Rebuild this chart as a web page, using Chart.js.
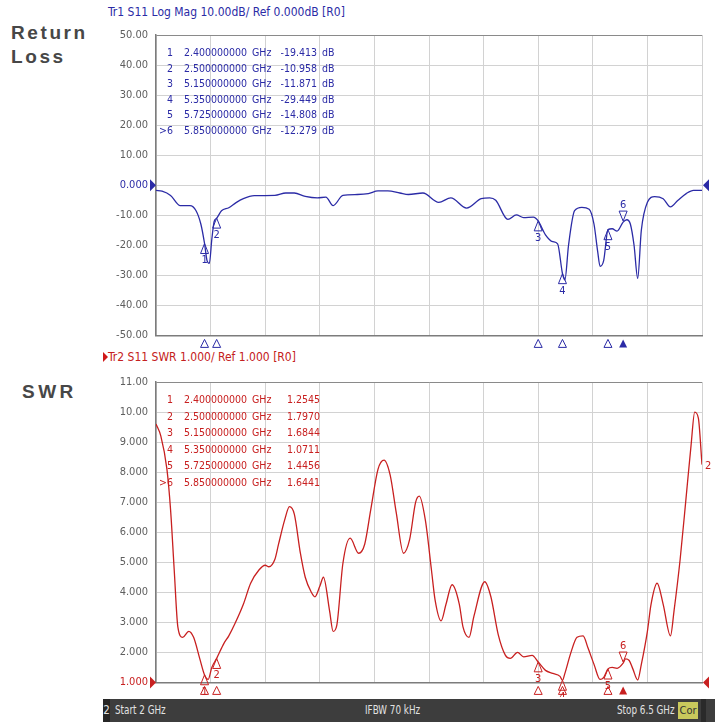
<!DOCTYPE html>
<html>
<head>
<meta charset="utf-8">
<script src="https://cdn.jsdelivr.net/npm/chart.js@4.4.0/dist/chart.umd.min.js"></script>
<style>
  body { margin: 0; width: 715px; height: 722px; overflow: hidden; position: relative; background: #fff;
         font-family: "DejaVu Sans Condensed", "DejaVu Sans", sans-serif; }
  canvas { position: absolute; left: 0; }
  .side { position: absolute; font-family: "Liberation Sans", Arial, sans-serif; font-weight: bold;
          font-size: 19px; color: #474747; letter-spacing: 2.6px; line-height: 24px; }
  .hdr { position: absolute; left: 108px; font-size: 12px; white-space: pre; }
  .cell { position: absolute; font-size: 10.5px; white-space: pre; line-height: 12px; }
  #bar { position: absolute; left: 103px; top: 699px; width: 612px; height: 23px; background: #3d3d3d;
         color: #e2e2e2; font-size: 11.5px; line-height: 23px; }
  #bar span { position: absolute; white-space: pre; transform: scaleX(0.85); transform-origin: left center; }
</style>
</head>
<body>
<div class="side" style="left:11px; top:21px;">Return<br>Loss</div>
<div class="side" style="left:22px; top:380px; letter-spacing:3.5px;">SWR</div>
<div class="hdr" style="top:5px; color:#2b2ba6;">Tr1 S11 Log Mag 10.00dB/ Ref 0.000dB [R0]</div>
<div class="hdr" style="top:350px; color:#c42020;">Tr2 S11 SWR 1.000/ Ref 1.000 [R0]</div>
<div style="position:absolute; left:103px; top:352px; width:0; height:0; border-top:5px solid transparent; border-bottom:5px solid transparent; border-left:5px solid #d01818;"></div>
<canvas id="rlChart" width="715" height="350" style="top:0;"></canvas>
<canvas id="swrChart" width="715" height="350" style="top:347px;"></canvas>
<div id="tables"></div>
<div id="bar">
  <span style="left:0; width:7px; background:#262626; text-align:center; transform:none;">2</span>
  <span style="left:12px;">Start 2 GHz</span>
  <span style="left:262px;">IFBW 70 kHz</span>
  <span style="left:514px;">Stop 6.5 GHz</span>
  <span style="left:575px; top:3px; height:17px; line-height:17px; width:20px; background:#c9c95c; color:#333; text-align:center; transform:none; font-size:11px;">Cor</span>
  <span style="left:598px; width:5px; height:23px; background:#2a2a2a; transform:none;"></span>
</div>
<script>
// === Sweep grid (GHz) ===
const gridFreqs = [2, 2.45, 2.9, 3.35, 3.8, 4.25, 4.7, 5.15, 5.6, 6.05, 6.5];

// === Trace 1: S11 Log Mag (dB) ===
const rlFreqs = [2.00, 2.05, 2.12, 2.20, 2.28, 2.33, 2.37, 2.40, 2.42, 2.44, 2.46, 2.48, 2.50, 2.54, 2.60,
  2.66, 2.72, 2.81, 2.98, 3.07, 3.14, 3.23, 3.33, 3.40, 3.46, 3.54, 3.66, 3.75, 3.83, 3.91, 4.01, 4.08,
  4.20, 4.33, 4.43, 4.56, 4.68, 4.75, 4.80, 4.90, 4.97, 5.03, 5.11, 5.15, 5.21, 5.27, 5.31, 5.35, 5.37,
  5.40, 5.45, 5.51, 5.57, 5.61, 5.64, 5.66, 5.69, 5.725, 5.76, 5.80, 5.85, 5.88, 5.91, 5.94, 5.97, 6.00,
  6.05, 6.11, 6.18, 6.24, 6.30, 6.37, 6.43, 6.50];
const rlValues = [-1.7, -2.0, -3.4, -6.8, -6.8, -8.5, -13, -19.4, -25, -26, -18, -12, -11.0, -8.5, -7.5,
  -5.8, -4.5, -3.5, -3.4, -2.6, -2.6, -3.7, -4.2, -4.0, -6.8, -3.4, -3.1, -2.8, -1.9, -1.9, -2.6, -3.1,
  -2.6, -5.7, -4.2, -7.6, -4.5, -4.2, -5.0, -11.4, -9.9, -10.8, -10.6, -11.9, -16.5, -18.8, -19.5, -29.4, -31.5,
  -20, -8.5, -7.4, -8.0, -13, -22, -27, -25, -14.8, -14.5, -15.3, -12.3, -11.5, -13, -20, -31, -15,
  -5.7, -3.8, -4.5, -7.2, -5.1, -2.8, -1.7, -1.7];

// === Trace 2: S11 SWR ===
const swrFreqs = [2.00, 2.04, 2.09, 2.12, 2.15, 2.18, 2.22, 2.27, 2.31, 2.36, 2.40, 2.43, 2.46, 2.50, 2.56,
  2.60, 2.65, 2.72, 2.78, 2.85, 2.90, 2.93, 2.98, 3.01, 3.06, 3.10, 3.14, 3.19, 3.23, 3.28, 3.31, 3.35,
  3.38, 3.43, 3.46, 3.49, 3.54, 3.60, 3.67, 3.72, 3.77, 3.83, 3.88, 3.93, 3.98, 4.04, 4.09, 4.14, 4.17,
  4.22, 4.27, 4.30, 4.35, 4.39, 4.44, 4.50, 4.53, 4.58, 4.62, 4.71, 4.76, 4.82, 4.88, 4.92, 4.98, 5.03,
  5.10, 5.15, 5.21, 5.27, 5.33, 5.35, 5.37, 5.42, 5.47, 5.52, 5.56, 5.61, 5.66, 5.69, 5.725, 5.76, 5.80,
  5.85, 5.87, 5.90, 5.93, 5.97, 6.00, 6.05, 6.08, 6.13, 6.18, 6.24, 6.27, 6.32, 6.37, 6.41, 6.44, 6.47, 6.50];
const swrValues = [9.6, 9.2, 8.1, 6.75, 4.75, 2.85, 2.5, 2.7, 2.5, 1.8, 1.25, 1.1, 1.5, 1.8, 2.3,
  2.55, 2.95, 3.6, 4.3, 4.75, 4.9, 4.85, 5.1, 5.6, 6.4, 6.85, 6.6, 5.3, 4.5, 4.0, 3.85, 4.2,
  4.5, 3.4, 2.7, 2.9, 4.95, 5.8, 5.3, 5.6, 6.75, 8.1, 8.4, 7.9, 6.65, 5.3, 5.75, 7.0, 7.2,
  6.4, 4.75, 3.75, 3.05, 3.6, 4.25, 3.6, 2.85, 2.5, 3.2, 4.35, 3.85, 2.6, 1.9, 1.8, 2.0, 1.85,
  1.9, 1.68, 1.4, 1.3, 1.2, 1.07, 1.3, 2.0, 2.5, 2.55, 2.15, 1.6, 1.1, 1.17, 1.45, 1.5, 1.47,
  1.64, 1.78, 1.73, 1.45, 1.08, 1.6, 2.7, 3.6, 4.3, 3.6, 2.55, 3.4, 5.1, 7.2, 8.9, 10.0, 9.8, 8.25];

// === Markers ===
const markerFreqs = [2.4, 2.5, 5.15, 5.35, 5.725, 5.85];
const rlMarkerValues = [-19.413, -10.958, -11.871, -29.449, -14.808, -12.279];
const swrMarkerValues = [1.2545, 1.797, 1.6844, 1.0711, 1.4456, 1.6441];

// === Axis ticks ===
const rlTicks = [50, 40, 30, 20, 10, 0, -10, -20, -30, -40, -50];
const rlTickLabels = ["50.00", "40.00", "30.00", "20.00", "10.00", "0.000", "-10.00", "-20.00", "-30.00", "-40.00", "-50.00"];
const swrTicks = [11, 10, 9, 8, 7, 6, 5, 4, 3, 2, 1];
const swrTickLabels = ["11.00", "10.00", "9.000", "8.000", "7.000", "6.000", "5.000", "4.000", "3.000", "2.000", "1.000"];

const BLUE = "#2b2ba6";
const RED = "#c82020";

const markerPlugin = {
  id: "vnaMarkers",
  afterDatasetsDraw(chart, args, o) {
    const { ctx, chartArea: a } = chart;
    const xs = chart.scales.x, ys = chart.scales.y;
    ctx.save();
    ctx.strokeStyle = o.color;
    ctx.fillStyle = o.color;
    ctx.lineWidth = 1;
    ctx.font = "11px 'DejaVu Sans Condensed'";
    ctx.textAlign = "center";
    ctx.textBaseline = "middle";
    o.freqs.forEach((f, i) => {
      const px = xs.getPixelForValue(f);
      const py = ys.getPixelForValue(o.values[i]);
      const active = i === o.active;
      ctx.beginPath();
      if (active) {
        ctx.moveTo(px, py - 1); ctx.lineTo(px - 4, py - 11); ctx.lineTo(px + 4, py - 11);
      } else {
        ctx.moveTo(px, py); ctx.lineTo(px - 4, py + 10); ctx.lineTo(px + 4, py + 10);
      }
      ctx.closePath();
      ctx.stroke();
      ctx.fillText(String(i + 1), px, active ? py - 17 : py + 17);
      // marker row under the grid
      const by = a.bottom + 4;
      ctx.beginPath();
      ctx.moveTo(px, by); ctx.lineTo(px - 4, by + 8); ctx.lineTo(px + 4, by + 8);
      ctx.closePath();
      if (active) ctx.fill(); else ctx.stroke();
    });
    // reference level arrows
    const ry = ys.getPixelForValue(o.ref);
    ctx.beginPath();
    ctx.moveTo(a.left - 6, ry - 6); ctx.lineTo(a.left, ry); ctx.lineTo(a.left - 6, ry + 6);
    ctx.closePath(); ctx.fill();
    ctx.beginPath();
    ctx.moveTo(a.right + 7, ry - 6); ctx.lineTo(a.right + 1, ry); ctx.lineTo(a.right + 7, ry + 6);
    ctx.closePath(); ctx.fill();
    if (o.traceLabel) {
      ctx.textAlign = "left";
      ctx.fillText(o.traceLabel.text, a.right + 3, ys.getPixelForValue(o.traceLabel.value));
    }
    ctx.restore();
  },
};

function makeChart(id, freqs, values, ticks, tickLabels, color, refValue, markerValues, traceLabel) {
  const lo = ticks[ticks.length - 1], hi = ticks[0];
  return new Chart(document.getElementById(id), {
    type: "line",
    data: {
      datasets: [{
        data: freqs.map((f, i) => ({ x: f, y: values[i] })),
        borderColor: color,
        borderWidth: 1.3,
        pointRadius: 0,
        cubicInterpolationMode: "monotone",
      }],
    },
    options: {
      responsive: false,
      animation: false,
      devicePixelRatio: 1,
      layout: { padding: { left: 100, right: 13, top: 35, bottom: 14 } },
      plugins: {
        legend: { display: false },
        tooltip: { enabled: false },
        vnaMarkers: { freqs: markerFreqs, values: markerValues, color: color, active: 5, ref: refValue, traceLabel: traceLabel },
      },
      scales: {
        x: {
          type: "linear", min: 2, max: 6.5,
          afterBuildTicks: (s) => { s.ticks = gridFreqs.map((v) => ({ value: v })); },
          afterFit: (s) => { s.height = 0; },
          ticks: { display: false },
          grid: { color: "#d2d2d2", drawTicks: false },
          border: { color: "#7c7c7c", width: 1.5 },
        },
        y: {
          min: lo, max: hi,
          afterBuildTicks: (s) => { s.ticks = ticks.map((v) => ({ value: v })); },
          afterFit: (s) => { s.width = 56; },
          ticks: {
            autoSkip: false,
            padding: 8,
            font: { family: "DejaVu Sans Condensed", size: 11 },
            color: (c) => (c.tick && c.tick.value === refValue ? color : "#5e5e5e"),
            callback: (v) => tickLabels[ticks.indexOf(v)],
          },
          grid: { color: (c) => (c.tick && c.tick.value === hi ? "#8a8a8a" : "#d2d2d2"), drawTicks: false },
          border: { color: "#7c7c7c", width: 1.5 },
        },
      },
    },
    plugins: [markerPlugin],
  });
}

window.rlChart = makeChart("rlChart", rlFreqs, rlValues, rlTicks, rlTickLabels, BLUE, 0, rlMarkerValues, null);
window.swrChart = makeChart("swrChart", swrFreqs, swrValues, swrTicks, swrTickLabels, RED, 1, swrMarkerValues, { text: "2", value: 8.2 });

// === Marker readout tables ===
function addTable(top, step, color, markerValues, digits, unit) {
  const box = document.getElementById("tables");
  markerFreqs.forEach((f, i) => {
    const y = top + step * i;
    const cells = [
      { text: (i === 5 ? ">" : "") + (i + 1), right: 542 },
      { text: f.toFixed(9), left: 184 },
      { text: "GHz", left: 252 },
      { text: markerValues[i].toFixed(digits), right: unit ? 398 : 395 },
    ];
    if (unit) cells.push({ text: unit, left: 322 });
    cells.forEach((c) => {
      const el = document.createElement("span");
      el.className = "cell";
      el.style.color = color;
      el.style.top = y - 6 + "px";
      if (c.left !== undefined) el.style.left = c.left + "px";
      else el.style.right = c.right + "px";
      el.textContent = c.text;
      box.appendChild(el);
    });
  });
}
addTable(52, 15.5, BLUE, rlMarkerValues, 3, "dB");
addTable(399, 16.5, RED, swrMarkerValues, 4, "");
</script>
</body>
</html>
